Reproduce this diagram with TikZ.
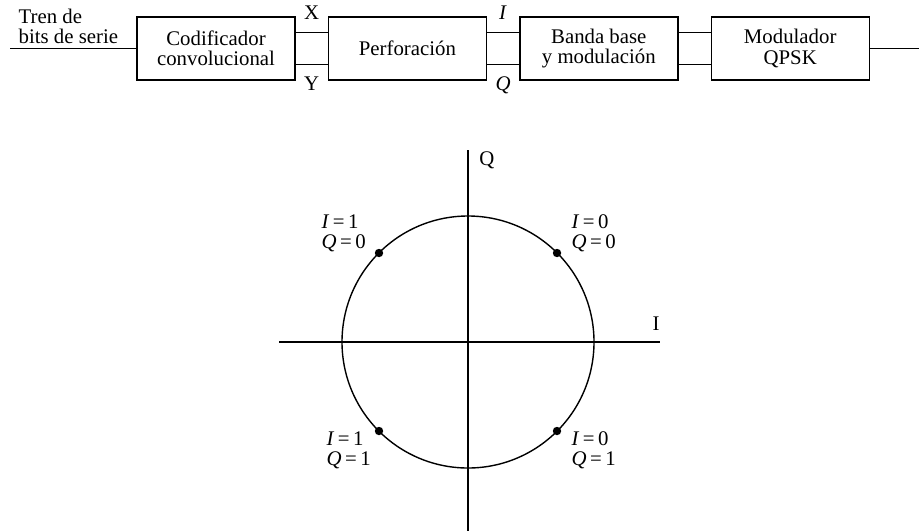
\documentclass[tikz,border=0pt]{standalone}
\usepackage{fontspec}
\setmainfont{Liberation Serif}
\usetikzlibrary{calc,positioning}

\begin{document}
\begin{tikzpicture}[x=0.5pt,y=-0.5pt,line width=0.7pt,
    every node/.style={font=\fontsize{10.4}{10.2}\selectfont, inner sep=0pt},
    block/.style={draw, minimum width=79pt, minimum height=31.5pt, align=center},
    dot/.style={circle, fill, minimum size=4.2pt}]
        \useasboundingbox (0,0) rectangle (919,531);

        % Draw the blocks of the chain
        \node[block] (cod) at (216,48.5) {Codificador\\convolucional};
        \node[block, right=16pt of cod] (perf) {Perforación};
        \node[block, right=16pt of perf] (banda) {Banda base\\y modulación};
        \node[block, right=16pt of banda] (mod) {Modulador\\QPSK};

        % Input and output lines
        \coordinate (in) at (10,48.5);
        \coordinate (out) at (919,48.5);
        \node[anchor=north west, align=left] (tren) at (18,8) {Tren de\\bits de serie};
        \draw (in) -- (cod);
        \draw (mod) -- (out);

        % Draw the pairs of lines between the blocks
        \draw ([yshift=8pt]cod.east) -- node[above=6pt] (X) {X} ([yshift=8pt]perf.west);
        \draw ([yshift=-8pt]cod.east) -- node[below=6pt] (Y) {Y} ([yshift=-8pt]perf.west);
        \draw ([yshift=8pt]perf.east) -- node[above=6pt] (I) {\textit{I}} ([yshift=8pt]banda.west);
        \draw ([yshift=-8pt]perf.east) -- node[below=6pt] (Q) {\textit{Q}} ([yshift=-8pt]banda.west);
        \draw ([yshift=8pt]banda.east) -- ([yshift=8pt]mod.west);
        \draw ([yshift=-8pt]banda.east) -- ([yshift=-8pt]mod.west);

        % Draw the constellation circle and the axes
        \coordinate (O) at (468,342);
        \draw (O) circle (126);
        \coordinate (xl) at (279,342);
        \coordinate (xr) at (660,342);
        \coordinate (yt) at (468,150);
        \coordinate (yb) at (468,531);
        \draw (xl) -- (xr);
        \draw (yt) -- (yb);
        \node (Qax) at (487,160) {Q};
        \node (Iax) at (656,324) {I};

        % Mark the four symbols
        \node[dot] (s10) at (379,253) {};
        \node[dot] (s00) at (557,253) {};
        \node[dot] (s11) at (379,431) {};
        \node[dot] (s01) at (557,431) {};
        \node[anchor=north west, align=left] at (321,214) {\textit{I}\,=\,1\\\textit{Q}\,=\,0};
        \node[anchor=north west, align=left] at (571,214) {\textit{I}\,=\,0\\\textit{Q}\,=\,0};
        \node[anchor=north west, align=left] at (326,431) {\textit{I}\,=\,1\\\textit{Q}\,=\,1};
        \node[anchor=north west, align=left] at (571,431) {\textit{I}\,=\,0\\\textit{Q}\,=\,1};

\end{tikzpicture}
\end{document}
